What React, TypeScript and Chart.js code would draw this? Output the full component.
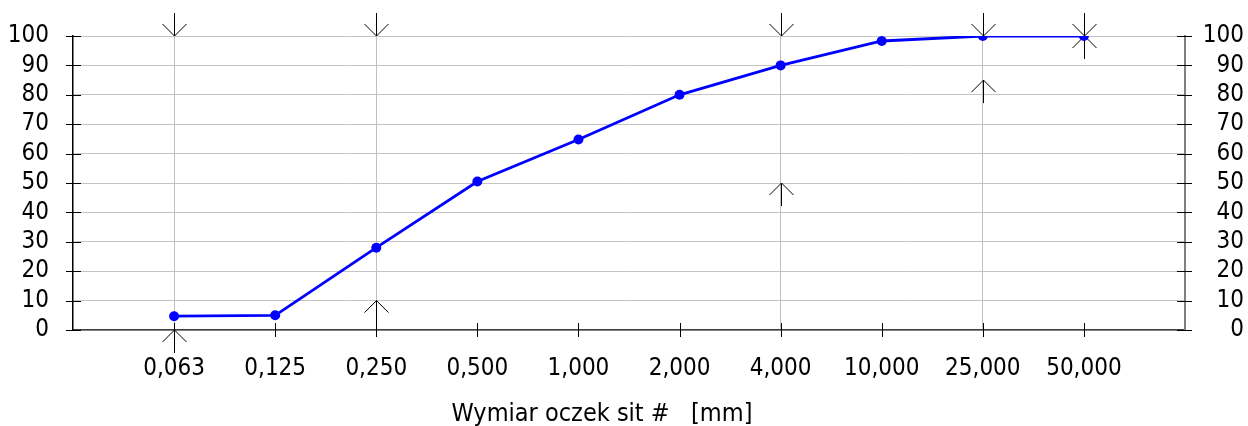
import React, { useEffect, useRef } from 'react';
import { Chart, registerables } from 'chart.js';

Chart.register(...registerables);

// ---- data ----
const categories = ['0,063', '0,125', '0,250', '0,500', '1,000', '2,000', '4,000', '10,000', '25,000', '50,000'];
const passing = [4.7, 5.0, 28.0, 50.5, 64.8, 80.0, 90.0, 98.3, 100, 100];
const upperLimit: (number | null)[] = [100, null, 100, null, null, null, 100, null, 100, 100];
const lowerLimit: (number | null)[] = [0, null, 10, null, null, null, 50, null, 85, 100];
const guideCategories = ['0,063', '0,250', '4,000', '25,000'];
const yMin = 0;
const yMax = 100;
const yStep = 10;
const xTitle = 'Wymiar oczek sit #   [mm]';

const FONT = "'DejaVu Sans Condensed', 'DejaVu Sans', sans-serif";

const overlayPlugin = {
  id: 'overlay',
  beforeDatasetsDraw(chart: any) {
    const { ctx, chartArea } = chart;
    const xs = chart.scales.x;
    const ys = chart.scales.y;
    const r = (v: number) => Math.round(v) + 0.5;
    const seg = (x1: number, y1: number, x2: number, y2: number) => {
      ctx.beginPath();
      ctx.moveTo(x1, y1);
      ctx.lineTo(x2, y2);
      ctx.stroke();
    };
    ctx.save();
    ctx.lineWidth = 1;
    ctx.strokeStyle = '#000';
    // crossing tick marks on the category axis
    categories.forEach((_, i) => {
      const px = r(xs.getPixelForValue(i + 1));
      seg(px, chartArea.bottom - 7, px, chartArea.bottom + 7);
    });
    // crossing tick marks on both value axes
    for (let v = yMin; v <= yMax; v += yStep) {
      const py = r(ys.getPixelForValue(v));
      seg(chartArea.left - 7, py, chartArea.left + 8, py);
      seg(chartArea.right - 8, py, chartArea.right + 7, py);
    }
    // limit arrows
    const L = 23;
    const H = 12;
    categories.forEach((_, i) => {
      const px = r(xs.getPixelForValue(i + 1));
      const u = upperLimit[i];
      if (u != null) {
        const py = ys.getPixelForValue(u);
        seg(px, py - L, px, py);
        seg(px - H, py - H, px, py);
        seg(px, py, px + H, py - H);
      }
      const l = lowerLimit[i];
      if (l != null) {
        const py = ys.getPixelForValue(l);
        seg(px, py + L, px, py);
        seg(px - H, py + H, px, py);
        seg(px, py, px + H, py + H);
      }
    });
    ctx.restore();
  },
  afterDraw(chart: any) {
    // axis title, centred where the reference places it (slightly left of the plot centre)
    const { ctx, chartArea } = chart;
    ctx.save();
    ctx.font = `25px ${FONT}`;
    ctx.fillStyle = '#000';
    ctx.textAlign = 'center';
    ctx.textBaseline = 'alphabetic';
    const cx = (chartArea.left + chartArea.right) / 2 - 27;
    ctx.fillText(xTitle, cx, chartArea.bottom + 91);
    ctx.restore();
  },
};

export default function App() {
  const ref = useRef<HTMLCanvasElement | null>(null);

  useEffect(() => {
    document.body.style.margin = '0';
    const canvas = ref.current;
    if (!canvas) return;
    const tickFont = { family: FONT, size: 24, lineHeight: 1 };
    const chart = new Chart(canvas, {
      type: 'line',
      data: {
        datasets: [
          {
            data: passing.map((v, i) => ({ x: i + 1, y: v })),
            borderColor: '#0000ff',
            backgroundColor: '#0000ff',
            borderWidth: 2.8,
            pointRadius: 5,
            pointBorderWidth: 0,
            pointBackgroundColor: '#0000ff',
            tension: 0,
            xAxisID: 'x',
            yAxisID: 'y',
          },
        ],
      },
      plugins: [overlayPlugin],
      options: {
        animation: false,
        responsive: false,
        devicePixelRatio: 1,
        layout: { padding: { left: 0, right: 4, top: 35, bottom: 0 } },
        plugins: {
          legend: { display: false },
          tooltip: { enabled: false },
          title: { display: false },
        },
        scales: {
          x: {
            type: 'linear',
            min: 0,
            max: categories.length + 1,
            afterBuildTicks: (s: any) => {
              s.ticks = categories.map((_, i) => ({ value: i + 1 }));
            },
            afterFit: (s: any) => {
              s.height = 96;
            },
            ticks: {
              autoSkip: false,
              maxRotation: 0,
              minRotation: 0,
              padding: 27,
              color: '#000',
              font: tickFont,
              callback: (v: any) => categories[Math.round(Number(v)) - 1] ?? '',
            },
            grid: {
              drawTicks: false,
              lineWidth: 1,
              color: (c: any) =>
                c.tick && guideCategories.includes(categories[Math.round(c.tick.value) - 1])
                  ? '#c0c0c0'
                  : 'rgba(0,0,0,0)',
            },
            border: { color: '#404040', width: 1.5 },
            title: { display: false },
          },
          y: {
            position: 'left',
            min: yMin,
            max: yMax,
            afterFit: (s: any) => {
              s.width = 73;
            },
            ticks: { stepSize: yStep, padding: 24, color: '#000', font: tickFont },
            grid: { drawTicks: false, color: '#c4c4c4', lineWidth: 1 },
            border: { color: '#000', width: 1.5 },
          },
          y1: {
            position: 'right',
            min: yMin,
            max: yMax,
            afterFit: (s: any) => {
              s.width = 59;
            },
            ticks: { stepSize: yStep, crossAlign: 'far', color: '#000', font: tickFont },
            grid: { drawTicks: false, drawOnChartArea: false },
            border: { color: '#808080', width: 2 },
          },
        },
      } as any,
    });
    return () => chart.destroy();
  }, []);

  return (
    <div style={{ width: 1248, height: 426 }}>
      <canvas ref={ref} width={1248} height={426} style={{ display: 'block' }} />
    </div>
  );
}
